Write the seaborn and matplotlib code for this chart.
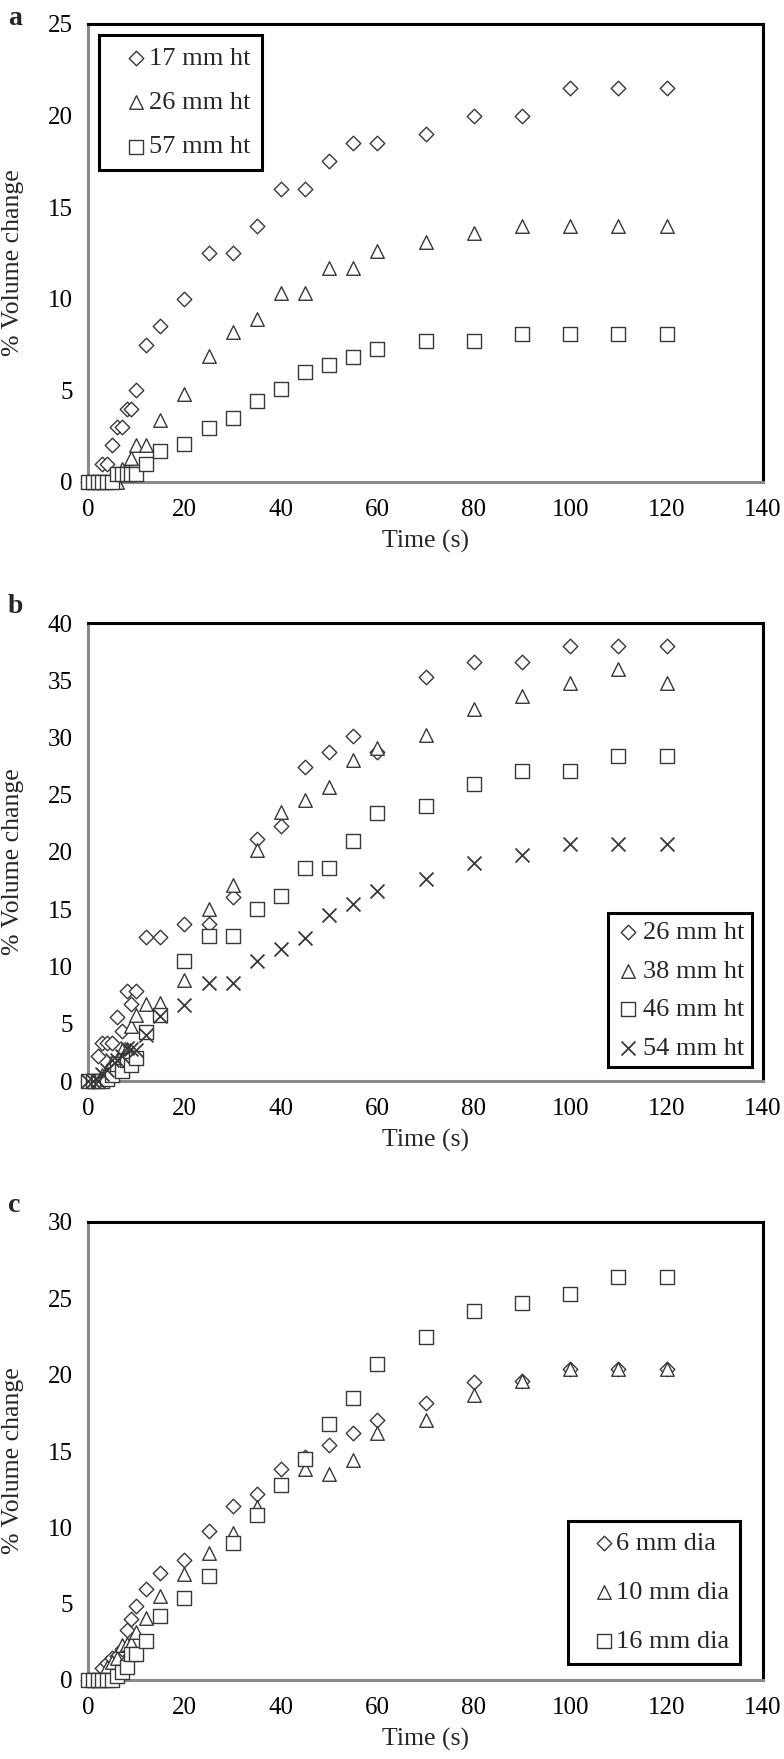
import numpy as np
import pandas as pd
import matplotlib
matplotlib.use("Agg")
import matplotlib.pyplot as plt
import seaborn as sns

sns.set_style("white")
plt.rcParams['font.family'] = ['Liberation Serif', 'DejaVu Serif']

# ---------------- data ----------------
time_s = [0, 1, 2, 3, 4, 5, 6, 7, 8, 9, 10, 12, 15, 20, 25, 30, 35, 40,
          45, 50, 55, 60, 70, 80, 90, 100, 110, 120]

# panel a : sample height
a_17mm = [0, 0, 0, 1, 1, 2, 3, 3, 4, 4, 5, 7.5, 8.5, 10, 12.5, 12.5, 14, 16,
          16, 17.5, 18.5, 18.5, 19, 20, 20, 21.5, 21.5, 21.5]
a_26mm = [0, 0, 0, 0, 0, 0, 0, 0.7, 0.7, 1.3, 2, 2, 3.4, 4.8, 6.9, 8.2, 8.9, 10.3,
          10.3, 11.7, 11.7, 12.6, 13.1, 13.6, 14, 14, 14, 14]
a_57mm = [0, 0, 0, 0, 0, 0, 0.45, 0.45, 0.45, 0.45, 0.45, 1.0, 1.7, 2.1, 2.95, 3.5,
          4.4, 5.1, 6.0, 6.4, 6.8, 7.25, 7.7, 7.7, 8.1, 8.1, 8.1, 8.1]

# panel b : sample height
b_26mm = [0, 0, 2.2, 3.3, 3.3, 3.3, 5.6, 4.4, 7.9, 6.7, 7.9, 12.6, 12.6, 13.7,
          13.7, 16.1, 21.1, 22.3, 27.4, 28.75, 30.1, 28.75, 35.3, 36.6, 36.6,
          38.0, 38.0, 38.0]
b_38mm = [0, 0, 0, 0.5, 1.0, 1.7, 1.7, 2.7, 2.8, 4.8, 5.75, 6.7, 6.8, 8.8, 15.0,
          17.1, 20.2, 23.5, 24.5, 25.7, 28.0, 29.1, 30.2, 32.5, 33.6, 34.8,
          36.0, 34.8]
b_46mm = [0, 0, 0, 0, 0.2, 0.5, 1.5, 0.9, 1.8, 1.4, 2.0, 4.3, 5.8, 10.45, 12.7,
          12.7, 15.0, 16.2, 18.6, 18.6, 21.0, 23.4, 24.0, 25.9, 27.1, 27.1,
          28.4, 28.4]
b_54mm = [0, 0, 0, 0.6, 1.0, 1.8, 1.8, 2.2, 2.9, 2.8, 2.7, 4.0, 5.65, 6.6, 8.55,
          8.55, 10.5, 11.5, 12.5, 14.5, 15.5, 16.6, 17.6, 19.0, 19.7, 20.7,
          20.7, 20.7]

# panel c : sample diameter
c_6mm = [0, 0, 0, 0.8, 1.1, 1.45, 1.6, 2.05, 3.25, 4.0, 4.85, 5.95, 7.0, 7.85,
         9.75, 11.4, 12.2, 13.8, 14.6, 15.4, 16.2, 17.05, 18.15, 19.5, 19.6,
         20.35, 20.35, 20.35]
c_10mm = [0, 0, 0, 0, 0.85, 1.2, 1.45, 2.3, 2.35, 2.4, 3.15, 4.05, 5.5, 6.95,
          8.35, 9.6, 11.3, 12.8, 13.85, 13.5, 14.4, 16.2, 17.0, 18.7, 19.6,
          20.4, 20.4, 20.4]
c_16mm = [0, 0, 0, 0, 0, 0, 0.25, 0.55, 0.85, 1.7, 1.7, 2.55, 4.2, 5.4, 6.8, 9.0,
          10.8, 12.8, 14.45, 16.75, 18.45, 20.7, 22.45, 24.15, 24.7, 25.3,
          26.4, 26.4]

panels = [
    ("a", 25, [("17 mm ht", a_17mm, "D"), ("26 mm ht", a_26mm, "^"),
               ("57 mm ht", a_57mm, "s")]),
    ("b", 40, [("26 mm ht", b_26mm, "D"), ("38 mm ht", b_38mm, "^"),
               ("46 mm ht", b_46mm, "s"), ("54 mm ht", b_54mm, "x")]),
    ("c", 30, [("6 mm dia", c_6mm, "D"), ("10 mm dia", c_10mm, "^"),
               ("16 mm dia", c_16mm, "s")]),
]

# ---------------- style ----------------
edge = "#383838"
msize = {"D": 55, "^": 95, "s": 95, "x": 100}
W, H = 784, 1759
ax_left, ax_right = 88, 763
ax_tops = [24, 623, 1222]
ax_h = 458
letter_base = [25, 613, 1212]

legend_pos = [
    dict(loc="upper left", bbox_to_anchor=(0.016, 0.976), labelspacing=0.78,
         borderpad=0.45, handlelength=1.95, handletextpad=-0.5),
    dict(loc="lower right", bbox_to_anchor=(0.984, 0.030), labelspacing=0.57,
         borderpad=0.28, handlelength=0.9, handletextpad=0.15),
    dict(loc="lower right", bbox_to_anchor=(0.966, 0.035), labelspacing=0.97,
         borderpad=0.4, handlelength=1.95, handletextpad=-0.5),
]

fig = plt.figure(figsize=(W / 100, H / 100), dpi=100)

for i, (letter, ymax, series) in enumerate(panels):
    top = ax_tops[i]
    ax = fig.add_axes([ax_left / W, 1 - (top + ax_h) / H,
                       (ax_right - ax_left) / W, ax_h / H])
    for label, vals, mk in series:
        df = pd.DataFrame({"Time (s)": time_s, "vol": vals})
        if mk == "x":
            sns.scatterplot(data=df, x="Time (s)", y="vol", marker="x",
                            s=msize[mk], color=edge, linewidth=1.3,
                            label=label, ax=ax, clip_on=False, zorder=3)
        else:
            sns.scatterplot(data=df, x="Time (s)", y="vol", marker=mk,
                            s=msize[mk], facecolor="white", edgecolor=edge,
                            linewidth=1.0, label=label, ax=ax, clip_on=False,
                            zorder=3)

    ax.set_xlim(0, 140)
    ax.set_ylim(0, ymax)
    ax.set_xticks(np.arange(0, 141, 20))
    ax.set_yticks(np.arange(0, ymax + 1, 5))
    ax.set_xlabel("Time (s)", fontsize=18.5)
    ax.set_ylabel("% Volume change", fontsize=18.5, va="center")
    ax.xaxis.set_label_coords(0.5, -0.105)
    ax.yaxis.set_label_coords(-0.111, 0.48)
    ax.tick_params(axis="both", labelsize=18, colors="#8a8a8a",
                   labelcolor="black", direction="out", length=6, width=1.5)
    ax.tick_params(axis="x", pad=6)
    ax.tick_params(axis="y", pad=5)
    for side in ["top", "right"]:
        ax.spines[side].set_color("black")
        ax.spines[side].set_linewidth(2.2)
    for side in ["left", "bottom"]:
        ax.spines[side].set_color("#8a8a8a")
        ax.spines[side].set_linewidth(2.2)

    leg = ax.legend(fontsize=19, frameon=True, fancybox=False, framealpha=1,
                    edgecolor="black", borderaxespad=0, **legend_pos[i])
    leg.get_frame().set_linewidth(2.2)

    fig.text(8 / W, 1 - letter_base[i] / H, letter, fontsize=20,
             fontweight="bold", va="baseline", ha="left")

fig.savefig("out.png", dpi=100)
